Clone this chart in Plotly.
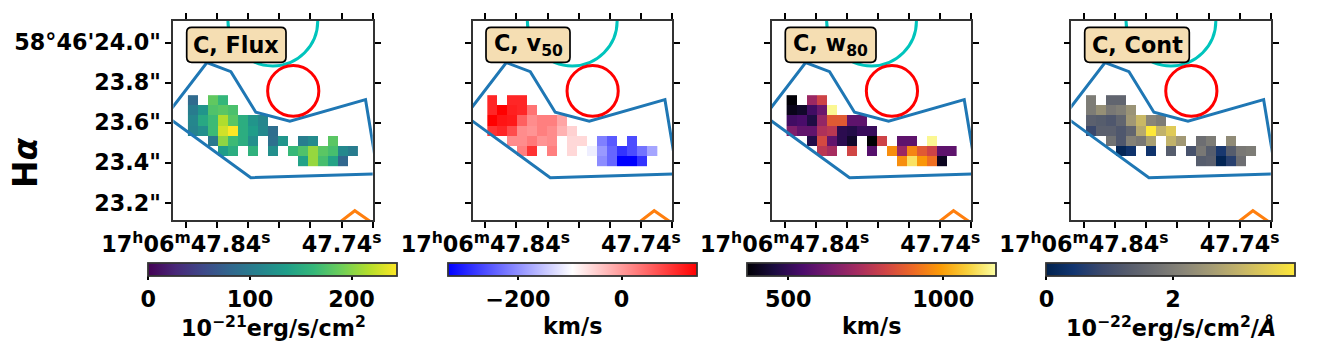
import plotly.graph_objects as go

W, H = 1328, 356

# Pixel grid, rows top to bottom, columns left to right (17 columns)
_ = None
flux = [
    [85, _, 184, 162, _, _, _, _, _, _, _, _, _, _, _, _, _],
    [103, 127, 176, 181, 174, _, _, _, _, _, _, _, _, _, _, _, _],
    [113, 147, 167, 216, 181, 152, 127, 113, _, _, _, _, _, _, _, _, _],
    [110, 122, 167, 228, 245, 152, 135, 115, 88, _, _, _, _, _, _, _, _],
    [_, _, 98, 203, 167, 152, 122, _, 90, 127, _, 105, 118, _, 181, _, _],
    [_, _, _, 135, 152, _, 157, _, 122, _, 164, 176, 206, 181, 172, 115, 103],
    [_, _, _, _, _, _, _, _, _, _, _, 140, 206, 172, 142, 81, _],
]
v50 = [
    [109, _, 109, 109, _, _, _, _, _, _, _, _, _, _, _, _, _],
    [109, 145, 116, 109, 37, _, _, _, _, _, _, _, _, _, _, _, _],
    [145, 126, 121, 54, 13, 25, 25, -11, _, _, _, _, _, _, _, _, _],
    [97, 109, 73, 13, 5, 25, 13, -23, -52, _, _, _, _, _, _, _, _],
    [_, _, 13, 13, 30, 5, 13, _, -59, -59, _, -216, -252, _, -264, _, _],
    [_, _, _, 25, 97, _, 25, _, -59, _, -112, -192, -240, -288, -264, -228, -180],
    [_, _, _, _, _, _, _, _, _, _, _, -204, -240, -336, -336, -288, _],
]
w80 = [
    [370, _, 704, 809, _, _, _, _, _, _, _, _, _, _, _, _, _],
    [399, 423, 528, 608, 1154, _, _, _, _, _, _, _, _, _, _, _, _],
    [528, 544, 463, 688, 865, 865, 584, 584, _, _, _, _, _, _, _, _, _],
    [648, 592, 592, 744, 768, 487, 471, 512, 512, _, _, _, _, _, _, _, _],
    [_, _, 471, 825, 592, 487, 423, _, 367, 809, _, 584, 584, _, 1154, _, _],
    [_, _, _, 768, 728, _, 817, _, 568, _, 969, 704, 953, 865, 809, 584, 584],
    [_, _, _, _, _, _, _, _, _, _, _, 969, 1114, 985, 913, 407, _],
]
cont = [
    [1.97, _, 1.49, 1.49, _, _, _, _, _, _, _, _, _, _, _, _, _],
    [1.97, 2.36, 1.89, 2.04, 2.44, _, _, _, _, _, _, _, _, _, _, _, _],
    [1.38, 1.30, 1.18, 1.49, 2.55, 3.14, 2.16, 1.97, _, _, _, _, _, _, _, _, _],
    [0.86, 1.38, 1.38, 1.18, 1.49, 2.87, 3.93, 3.03, 3.46, _, _, _, _, _, _, _, _],
    [_, _, 1.77, 1.18, 2.08, 1.89, 2.67, _, 3.03, 2.55, _, 1.69, 1.97, _, 2.28, _, _],
    [_, _, _, 0.12, 0.39, _, 0.39, _, 1.30, _, 1.06, 1.89, 1.30, 0.51, 1.30, 1.89, 1.97],
    [_, _, _, _, _, _, _, _, _, _, _, 1.30, 1.38, 0.08, 0.67, 1.69, _],
]

# Sky coordinates (RA seconds past 17h06m, Dec arcsec past 58d46m)
ra_first, ra_step = 47.8355, -0.00642
dec_first, dec_step = 23.712, -0.0505
ra_range = [47.8481, 47.7200]
dec_range = [23.112, 24.108]

region_ra = [47.8528, 47.8265, 47.8111, 47.7951, 47.7732, 47.7246, 47.7167, 47.7983, 47.8528]
region_dec = [23.6335, 23.900, 23.855, 23.652, 23.607, 23.715, 23.3435, 23.325, 23.6335]
orange_ra = [47.7443, 47.7315, 47.7174]
orange_dec = [23.0835, 23.160, 23.0835]
red_ra = [47.7875, 47.7546]
red_dec = [23.632, 23.885]
cyan_ra = [47.8130, 47.7553]
cyan_dec = [23.8835, 24.3335]

ra_ticks = [47.84, 47.74]
ra_labels = ["17<sup>h</sup>06<sup>m</sup>47.84<sup>s</sup>", "47.74<sup>s</sup>"]
ra_minor = [47.82, 47.80, 47.78, 47.76, 47.72]
dec_ticks = [24.0, 23.8, 23.6, 23.4, 23.2]
dec_labels = ["58°46'24.0\"", '23.8"', '23.6"', '23.4"', '23.2"']

panel_names = ["C, Flux", "C, v<sub>50</sub>", "C, w<sub>80</sub>", "C, Cont"]
cbar_titles = ["10<sup>−21</sup>erg/s/cm<sup>2</sup>", "km/s", "km/s",
               "10<sup>−22</sup>erg/s/cm<sup>2</sup>/<i>Å</i>"]
cbar_title_y = [327, 326, 326, 327]
cbar_ticks = [[0, 100, 200], [-200, 0], [500, 1000], [0, 2]]
cbar_ticktext = [["0", "100", "200"], ["−200", "0"], ["500", "1000"], ["0", "2"]]
zmins = [0, -336, 367, 0]
zmaxs = [245, 145, 1170, 3.93]
bwr = [[0, "#0000ff"], [0.5, "#ffffff"], [1, "#ff0000"]]
scales = ["Viridis", bwr, "Inferno", "Cividis"]
maps = [flux, v50, w80, cont]

ax_left = [173.3, 472.7, 772.0, 1071.4]
ax_w = 199.4
ax_top, ax_bot = 21.0, 220.3
cb_left = [148.3, 447.6, 747.0, 1046.4]
cb_w, cb_top, cb_h = 249.4, 263.3, 12.7
box_left = [186.7, 486.0, 785.3, 1084.7]
box_right = [286.0, 570.0, 876.0, 1189.3]
box_top, box_bot = 27.3, 62.3

FONT = "DejaVu Sans"
FS = 22.3
LW = 3
tickfont = dict(family=FONT, size=FS, color="black", weight=700)


def px(x):
    return x / W


def py(y):
    return 1 - y / H


def rounded(x0, x1, y0, y1, r=5):
    X0, X1, Y0, Y1 = px(x0), px(x1), py(y0), py(y1)
    RX, RY = r / W, r / H
    return (f"M {X0+RX} {Y0} L {X1-RX} {Y0} Q {X1} {Y0} {X1} {Y0-RY} "
            f"L {X1} {Y1+RY} Q {X1} {Y1} {X1-RX} {Y1} "
            f"L {X0+RX} {Y1} Q {X0} {Y1} {X0} {Y1+RY} "
            f"L {X0} {Y0-RY} Q {X0} {Y0} {X0+RX} {Y0} Z")


fig = go.Figure()
shapes, annotations, axes = [], [], {}

for i in range(4):
    suf = "" if i == 0 else str(i + 1)
    xa, ya = "x" + suf, "y" + suf
    fig.add_trace(go.Heatmap(
        z=maps[i], x0=ra_first, dx=ra_step, y0=dec_first, dy=dec_step,
        colorscale=scales[i], zmin=zmins[i], zmax=zmaxs[i], xaxis=xa, yaxis=ya,
        hoverinfo="skip", xgap=0, ygap=0,
        colorbar=dict(
            orientation="h", lenmode="pixels", len=cb_w, thicknessmode="pixels",
            thickness=cb_h, x=px(cb_left[i]), xanchor="left", y=py(cb_top), yanchor="top",
            xpad=0, ypad=0, outlinecolor="#333333", outlinewidth=1.8, borderwidth=0,
            ticks="outside", ticklen=4, tickwidth=1.5, tickcolor="black",
            tickmode="array", tickvals=cbar_ticks[i], ticktext=cbar_ticktext[i],
            tickfont=tickfont,
        ),
    ))
    fig.add_trace(go.Scatter(x=region_ra, y=region_dec, mode="lines", xaxis=xa, yaxis=ya,
                             line=dict(color="#1f77b4", width=LW), hoverinfo="skip", showlegend=False))
    fig.add_trace(go.Scatter(x=orange_ra, y=orange_dec, mode="lines", xaxis=xa, yaxis=ya,
                             line=dict(color="#ff7f0e", width=LW), hoverinfo="skip", showlegend=False))
    shapes.append(dict(type="circle", xref=xa, yref=ya, x0=cyan_ra[0], x1=cyan_ra[1],
                       y0=cyan_dec[0], y1=cyan_dec[1], line=dict(color="#00c4bc", width=LW), layer="above"))
    shapes.append(dict(type="circle", xref=xa, yref=ya, x0=red_ra[0], x1=red_ra[1],
                       y0=red_dec[0], y1=red_dec[1], line=dict(color="#ff0000", width=LW), layer="above"))
    shapes.append(dict(type="path", xref="paper", yref="paper", layer="above",
                       path=rounded(box_left[i], box_right[i], box_top, box_bot),
                       fillcolor="#f5deb3", line=dict(color="black", width=1.7)))
    annotations.append(dict(xref="paper", yref="paper",
                            x=px((box_left[i] + box_right[i]) / 2), y=py((box_top + box_bot) / 2),
                            xanchor="center", yanchor="middle", showarrow=False,
                            text="<b>" + panel_names[i] + "</b>",
                            font=dict(family=FONT, size=FS, color="black", weight=700)))
    annotations.append(dict(xref="paper", yref="paper",
                            x=px(cb_left[i] + cb_w / 2), y=py(cbar_title_y[i]),
                            xanchor="center", yanchor="middle", showarrow=False,
                            text="<b>" + cbar_titles[i] + "</b>",
                            font=dict(family=FONT, size=FS, color="black", weight=700)))
    axes["xaxis" + suf] = dict(
        domain=[px(ax_left[i]), px(ax_left[i] + ax_w)], range=ra_range, anchor=ya,
        tickmode="array", tickvals=ra_ticks, ticktext=ra_labels, tickfont=tickfont,
        ticks="outside", ticklen=6, tickwidth=1.6, tickcolor="black", showgrid=False, zeroline=False,
        minor=dict(tickmode="array", tickvals=ra_minor, ticks="outside", ticklen=6, tickwidth=1.6,
                   tickcolor="black", showgrid=False),
        ticklabelstandoff=-3,
        showline=True, linecolor="#333333", linewidth=1.8, mirror="ticks", tickangle=0)
    axes["yaxis" + suf] = dict(
        domain=[py(ax_bot), py(ax_top)], range=dec_range, anchor=xa,
        tickmode="array", tickvals=dec_ticks, ticktext=dec_labels, tickfont=tickfont,
        showticklabels=(i == 0),
        ticks="outside", ticklen=6, tickwidth=1.6, tickcolor="black", showgrid=False, zeroline=False,
        showline=True, linecolor="#333333", linewidth=1.8, mirror="ticks")

annotations.append(dict(xref="paper", yref="paper", x=px(26), y=py(163), textangle=-90,
                        xanchor="center", yanchor="middle", showarrow=False,
                        text="<b>H<i>α</i></b>",
                        font=dict(family=FONT, size=33, color="black", weight=700)))

fig.update_layout(width=W, height=H, margin=dict(l=0, r=0, t=0, b=0, autoexpand=False),
                  paper_bgcolor="white", plot_bgcolor="white", showlegend=False,
                  shapes=shapes, annotations=annotations, **axes)

fig.write_html("out.html", config=dict(displayModeBar=False),
               post_script="document.body.style.margin='0';document.body.style.overflow='hidden';")
